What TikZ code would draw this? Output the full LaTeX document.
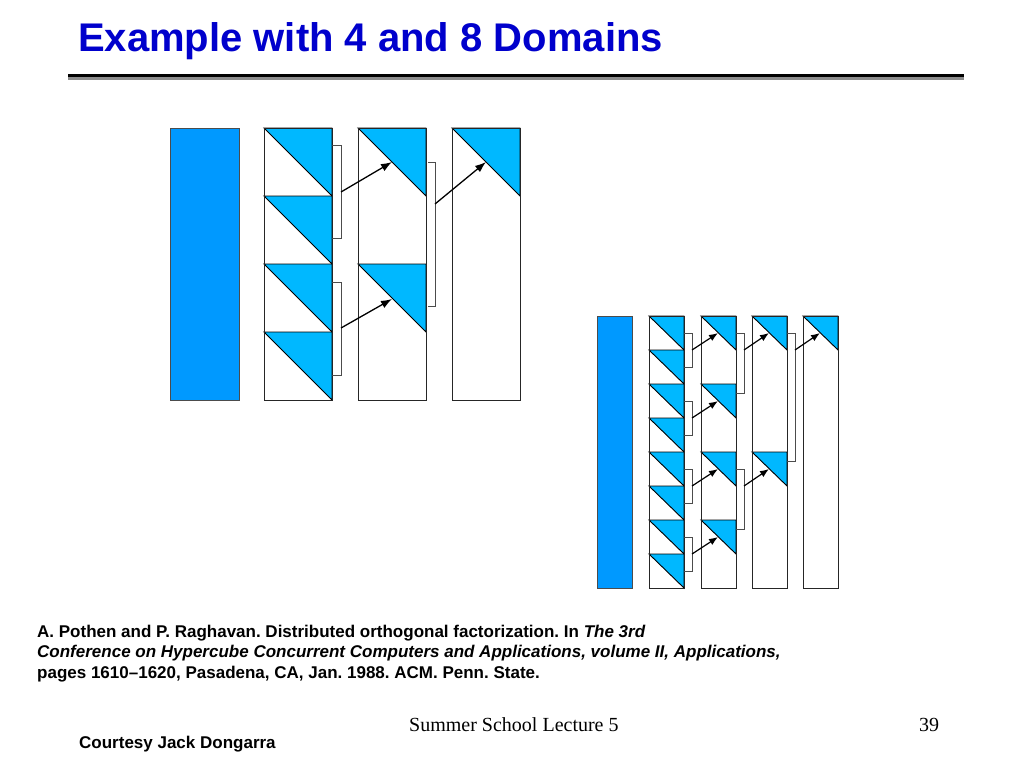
\documentclass[tikz,border=0pt]{standalone}
\usepackage{fontspec}
\setmainfont{Liberation Sans}
\newfontfamily\serifft{Liberation Serif}
\usetikzlibrary{arrows.meta}
\definecolor{titleblue}{RGB}{0,0,204}
\definecolor{solidblue}{RGB}{0,153,255}
\definecolor{triblue}{RGB}{0,184,255}
\frenchspacing
\begin{document}
\begin{tikzpicture}[x=1pt,y=-1pt,
  colbox/.style={draw=black!85, line width=1pt},
  solid/.style={fill=solidblue, draw=black!70, line width=0.8pt},
  tri/.style={fill=triblue, draw=black, line width=0.9pt},
  brk/.style={draw=black!70, line width=1pt},
  arrbig/.style={-{Latex[length=11pt,width=8pt]}, line width=1.3pt},
  arrsmall/.style={-{Latex[length=9pt,width=7pt]}, line width=1.2pt},
  txt/.style={inner sep=0pt, anchor=base west},
]
\useasboundingbox[fill=white] (0,0) rectangle (1024,768);

% title
\node[txt, text=titleblue, font=\fontsize{40}{48}\selectfont\bfseries] (title) at (78,52) {Example with 4 and 8 Domains};
\draw[line width=3pt, black] (68,75.5) -- (964,75.5);
\draw[line width=2.5pt, black!45] (68,78.5) -- (964,78.5);

% ---------- left diagram (4 domains) ----------
\def\w{68}
\draw[solid] (170,128) rectangle (239,400);
% column 1
\foreach \r in {0,1,2,3}{
  \draw[tri] (264,128+\r*\w) -- (332,128+\r*\w) -- (332,196+\r*\w) -- cycle;
}
\draw[colbox] (264,128) rectangle (332,400);
% column 2
\foreach \r in {0,2}{
  \draw[tri] (358,128+\r*\w) -- (426,128+\r*\w) -- (426,196+\r*\w) -- cycle;
}
\draw[colbox] (358,128) rectangle (426,400);
% column 3
\draw[tri] (452,128) -- (520,128) -- (520,196) -- cycle;
\draw[colbox] (452,128) rectangle (520,400);
% brackets
\draw[brk] (332,145) -- (341,145) -- (341,238) -- (332,238);
\draw[brk] (332,282) -- (341,282) -- (341,375) -- (332,375);
\draw[brk] (428,162) -- (435,162) -- (435,306) -- (428,306);
% arrows
\coordinate (La1) at (341,192); \coordinate (Lb1) at (392,162);
\coordinate (La2) at (341,328); \coordinate (Lb2) at (392,299);
\coordinate (La3) at (435,204); \coordinate (Lb3) at (486,162);
\draw[arrbig] (La1) -- (Lb1);
\draw[arrbig] (La2) -- (Lb2);
\draw[arrbig] (La3) -- (Lb3);

% ---------- right diagram (8 domains) ----------
\def\h{34}
\draw[solid] (597,316) rectangle (632,588);
\foreach \r in {0,...,7}{
  \draw[tri] (649,316+\r*\h) -- (684,316+\r*\h) -- (684,350+\r*\h) -- cycle;
}
\draw[colbox] (649,316) rectangle (684,588);
\foreach \r in {0,2,4,6}{
  \draw[tri] (701,316+\r*\h) -- (736,316+\r*\h) -- (736,350+\r*\h) -- cycle;
}
\draw[colbox] (701,316) rectangle (736,588);
\foreach \r in {0,4}{
  \draw[tri] (752,316+\r*\h) -- (787,316+\r*\h) -- (787,350+\r*\h) -- cycle;
}
\draw[colbox] (752,316) rectangle (787,588);
\draw[tri] (803,316) -- (838,316) -- (838,350) -- cycle;
\draw[colbox] (803,316) rectangle (838,588);
% brackets col1
\foreach \k in {0,1,2,3}{
  \draw[brk] (684,333+\k*68) -- (692,333+\k*68) -- (692,367+\k*68) -- (684,367+\k*68);
}
% brackets col2
\foreach \k in {0,1}{
  \draw[brk] (736,333+\k*136) -- (744,333+\k*136) -- (744,393+\k*136) -- (736,393+\k*136);
}
% bracket col3
\draw[brk] (787,333) -- (795,333) -- (795,461) -- (787,461);
% arrows
\foreach \k in {0,1,2,3}{
  \coordinate (Ra\k) at (692,350+\k*68);
  \coordinate (Rb\k) at (718,333+\k*68);
  \draw[arrsmall] (Ra\k) -- (Rb\k);
}
\foreach \k in {0,1}{
  \coordinate (Sa\k) at (744,350+\k*136);
  \coordinate (Sb\k) at (769,333+\k*136);
  \draw[arrsmall] (Sa\k) -- (Sb\k);
}
\coordinate (Ta) at (795,350); \coordinate (Tb) at (820,333);
\draw[arrsmall] (Ta) -- (Tb);

% ---------- citation ----------
\node[txt, font=\fontsize{17}{20}\selectfont\bfseries] (c1) at (37,637) {A. Pothen and P. Raghavan. Distributed orthogonal factorization. In \textit{The 3rd}};
\node[txt, font=\fontsize{17}{20}\selectfont\bfseries\itshape] (c2) at (37,657) {Conference on Hypercube Concurrent Computers and Applications, volume II, Applications,};
\node[txt, font=\fontsize{17}{20}\selectfont\bfseries] (c3) at (37,678) {pages 1610–1620, Pasadena, CA, Jan. 1988. ACM. Penn. State.};

% ---------- footer ----------
\node[txt, font=\serifft\fontsize{20}{24}\selectfont] (ft) at (409,731) {Summer School Lecture 5};
\node[txt, font=\serifft\fontsize{20}{24}\selectfont] (pg) at (919,731) {39};
\node[txt, font=\fontsize{17}{20}\selectfont\bfseries] (court) at (79,748) {Courtesy Jack Dongarra};
\end{tikzpicture}
\end{document}
